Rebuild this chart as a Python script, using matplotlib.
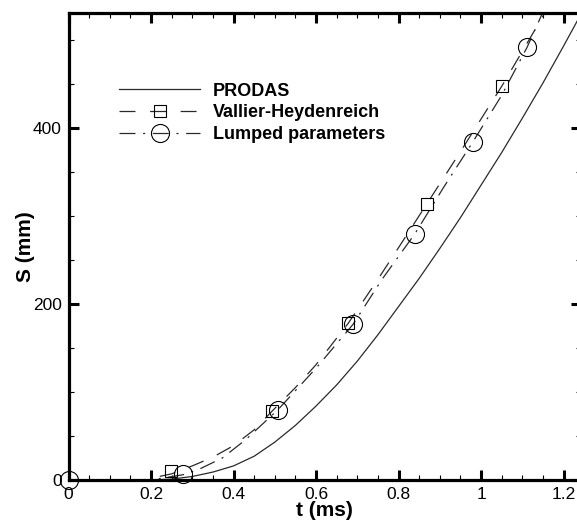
import matplotlib
matplotlib.use("Agg")
import matplotlib.pyplot as plt
from matplotlib.lines import Line2D
from matplotlib.ticker import MultipleLocator, FuncFormatter

plt.rcParams['font.family'] = ['Liberation Sans', 'DejaVu Sans']
plt.rcParams['lines.scale_dashes'] = False

# PRODAS (solid line)
t_prodas = [0.20, 0.25, 0.30, 0.35, 0.40, 0.45, 0.50, 0.55, 0.60, 0.65, 0.70, 0.75,
            0.80, 0.85, 0.90, 0.95, 1.00, 1.05, 1.10, 1.15, 1.20, 1.25]
s_prodas = [0, 1, 4, 9, 16, 27, 43, 62, 84, 108, 135, 165,
            197, 229, 263, 298, 335, 372, 411, 451, 493, 536]

# Vallier-Heydenreich (dashed line + squares)
t_vh = [0.00, 0.18, 0.25, 0.30, 0.35, 0.40, 0.45, 0.493, 0.55, 0.60, 0.678, 0.75,
        0.80, 0.869, 0.95, 1.051, 1.10, 1.16]
s_vh = [0, 0, 7, 16, 26, 39, 57, 78, 105, 131, 178, 228,
        264, 314, 373, 448, 487, 535]
t_vh_mk = [0.248, 0.493, 0.678, 0.869, 1.051]
s_vh_mk = [10, 78, 178, 314, 448]

# Lumped parameters (dash-dot line + circles)
t_lp = [0.00, 0.20, 0.278, 0.32, 0.373, 0.43, 0.508, 0.60, 0.69, 0.76, 0.84, 0.91,
        0.98, 1.05, 1.112, 1.16]
s_lp = [0, 0, 6, 13, 25, 46, 80, 127, 177, 228, 280, 333,
        384, 437, 492, 542]
t_lp_mk = [0.0, 0.278, 0.508, 0.69, 0.84, 0.98, 1.112]
s_lp_mk = [0, 7, 80, 177, 280, 384, 492]

labels = ["PRODAS", "Vallier-Heydenreich", "Lumped parameters"]
x_ticks = [0, 0.2, 0.4, 0.6, 0.8, 1.0, 1.2]
y_ticks = [0, 200, 400]

W, H = 577, 521
fig = plt.figure(figsize=(W / 100, H / 100), dpi=100)
ax_l, ax_r, ax_t, ax_b = 68.5, 581, 13, 480
ax = fig.add_axes([ax_l / W, 1 - ax_b / H, (ax_r - ax_l) / W, (ax_b - ax_t) / H])

lc = '#2a2a2a'
lw = 0.9
dash_vh = (0, (11.5, 10.5))
dash_lp = (0, (11.5, 5.5, 1.5, 5.5))

ax.plot(t_prodas, s_prodas, color=lc, lw=lw, linestyle='-')
ax.plot(t_vh, s_vh, color=lc, lw=lw, linestyle=dash_vh)
ax.plot(t_lp, s_lp, color=lc, lw=lw, linestyle=dash_lp)
ax.plot(t_vh_mk, s_vh_mk, linestyle='none', marker='s', markersize=8.5,
        markerfacecolor='none', markeredgecolor='black', markeredgewidth=0.8, clip_on=False)
ax.plot(t_lp_mk, s_lp_mk, linestyle='none', marker='o', markersize=13,
        markerfacecolor='none', markeredgecolor='black', markeredgewidth=0.8, clip_on=False)

ax.set_xlim(0, (ax_r - ax_l) / 412.5)
ax.set_ylim(0, (ax_b - ax_t) / 0.88)

ax.set_xticks(x_ticks)
ax.set_yticks(y_ticks)
ax.xaxis.set_minor_locator(MultipleLocator(0.05))
ax.yaxis.set_minor_locator(MultipleLocator(50))
ax.xaxis.set_major_formatter(FuncFormatter(lambda v, p: f"{v:g}"))
ax.yaxis.set_major_formatter(FuncFormatter(lambda v, p: f"{v:g}"))

ax.tick_params(which='both', direction='in', top=True, right=True, labelsize=12.5, pad=5)
ax.tick_params(which='major', length=7.2, width=2.2)
ax.tick_params(which='minor', length=3.6, width=0.8)
for sp in ax.spines.values():
    sp.set_linewidth(2.3)

ax.set_xlabel("t (ms)", fontsize=15, fontweight='bold', labelpad=-1)
ax.set_ylabel("S (mm)", fontsize=15, fontweight='bold', labelpad=-1.5)

handles = [
    Line2D([], [], color=lc, lw=lw, linestyle='-'),
    Line2D([], [], color=lc, lw=lw, linestyle=dash_vh, marker='s', markersize=8.5,
           markerfacecolor='none', markeredgecolor='black', markeredgewidth=0.8),
    Line2D([], [], color=lc, lw=lw, linestyle=dash_lp, marker='o', markersize=13,
           markerfacecolor='none', markeredgecolor='black', markeredgewidth=0.8),
]
leg = ax.legend(handles, labels, loc='upper left', frameon=False,
                bbox_to_anchor=(119 / W, 1 - 82.5 / H), bbox_transform=fig.transFigure,
                borderpad=0, borderaxespad=0, handlelength=4.5, handletextpad=0.72,
                labelspacing=0.26, prop={'weight': 'bold', 'size': 13}, markerscale=1.0,
                numpoints=1)

fig.savefig("out.png", dpi=100)
